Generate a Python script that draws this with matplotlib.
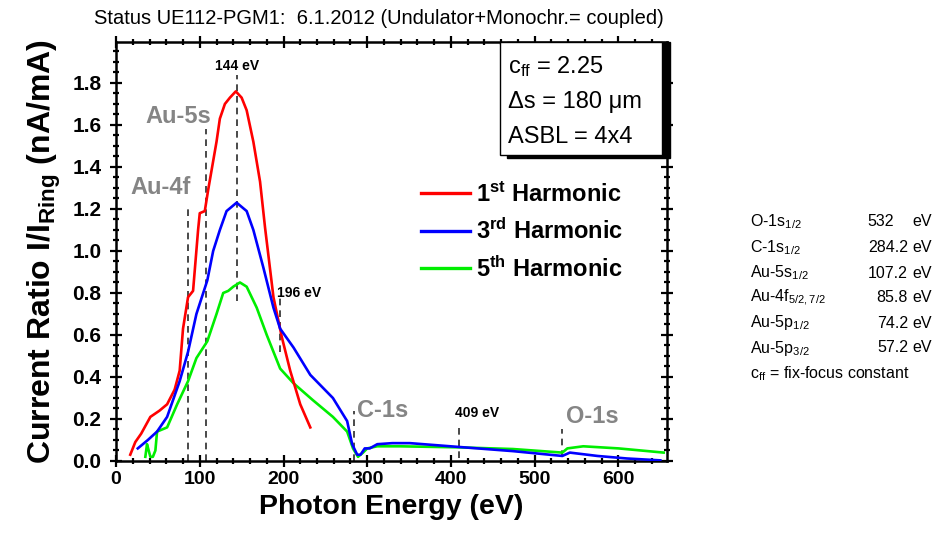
import numpy as np
import matplotlib
matplotlib.use('Agg')
import matplotlib.pyplot as plt
from matplotlib.patches import Rectangle
from matplotlib.ticker import MultipleLocator, FormatStrFormatter

plt.rcParams['font.family'] = ['Liberation Sans', 'DejaVu Sans']
plt.rcParams['mathtext.fontset'] = 'custom'
plt.rcParams['mathtext.rm'] = 'Liberation Sans'
plt.rcParams['mathtext.bf'] = 'Liberation Sans:bold'
plt.rcParams['mathtext.it'] = 'Liberation Sans:italic'

# ─── Data ─────────────────────────────────────────────────────────────
red_E = [17, 23, 30, 41, 52, 61, 70, 76, 80, 86, 92, 98, 100, 106, 110, 120, 124,
         130, 136, 143, 150, 156, 164, 172, 178, 188, 198, 208, 220, 232]
red_I = [0.03, 0.09, 0.13, 0.21, 0.24, 0.27, 0.34, 0.43, 0.63, 0.78, 0.81, 1.10, 1.18,
         1.19, 1.29, 1.52, 1.63, 1.70, 1.73, 1.76, 1.73, 1.67, 1.52, 1.33, 1.11, 0.78,
         0.59, 0.43, 0.27, 0.16]

blue_E = [26, 38, 49, 61, 76, 86, 96, 109, 116, 124, 132, 144, 156, 164, 176, 188, 196,
          212, 232, 259, 276, 282, 288, 292, 297, 303, 312, 330, 351, 409, 474, 533, 542,
          575, 610, 650]
blue_I = [0.06, 0.10, 0.14, 0.21, 0.38, 0.52, 0.70, 0.86, 1.00, 1.10, 1.19, 1.23, 1.19,
          1.10, 0.92, 0.73, 0.63, 0.54, 0.41, 0.30, 0.19, 0.08, 0.03, 0.03, 0.06, 0.06,
          0.08, 0.085, 0.085, 0.067, 0.047, 0.024, 0.04, 0.024, 0.012, 0.003]

green_E = [35, 37, 39, 41, 44, 47, 49, 61, 73, 86, 96, 109, 120, 128, 134, 140, 148, 156,
           168, 180, 196, 212, 235, 259, 276, 283, 289, 295, 300, 312, 339, 409, 474, 533,
           539, 558, 600, 654]
green_I = [0.02, 0.08, 0.05, 0.02, 0.02, 0.05, 0.14, 0.16, 0.27, 0.38, 0.49, 0.57, 0.70,
           0.80, 0.81, 0.83, 0.85, 0.83, 0.73, 0.60, 0.44, 0.37, 0.29, 0.21, 0.14, 0.06,
           0.02, 0.04, 0.06, 0.07, 0.07, 0.065, 0.057, 0.04, 0.06, 0.07, 0.06, 0.04]

series_labels = [r'1$^{\mathbf{st}}$ Harmonic', r'3$^{\mathbf{rd}}$ Harmonic',
                 r'5$^{\mathbf{th}}$ Harmonic']

# marker lines (edge energies) and their vertical extent
edge_E = [85.8, 107.2, 144, 196, 284.2, 409, 532]
edge_top = [1.20, 1.58, 1.84, 0.78, 0.24, 0.17, 0.15]
edge_bot = [0.0, 0.0, 0.76, 0.52, 0.0, 0.015, 0.02]

table_names = [r'O-1s$_{\mathregular{1/2}}$', r'C-1s$_{\mathregular{1/2}}$',
               r'Au-5s$_{\mathregular{1/2}}$', r'Au-4f$_{\mathregular{5/2,7/2}}$',
               r'Au-5p$_{\mathregular{1/2}}$', r'Au-5p$_{\mathregular{3/2}}$']
table_vals = ['532', '284.2', '107.2', '85.8', '74.2', '57.2']

# ─── Figure ───────────────────────────────────────────────────────────
fig = plt.figure(figsize=(9.38, 5.4), dpi=100)
ax = fig.add_axes([0.1237, 0.1463, 0.5874, 0.7759])

ax.plot(red_E, red_I, color='#ff0000', lw=1.9, label=series_labels[0], zorder=4)
ax.plot(blue_E, blue_I, color='#0000ff', lw=1.9, label=series_labels[1], zorder=4)
ax.plot(green_E, green_I, color='#00ee00', lw=1.9, label=series_labels[2], zorder=3)

for e, t, b in zip(edge_E, edge_top, edge_bot):
    ax.plot([e, e], [b, t], color='#2a2a2a', lw=1.2, ls=(0, (4, 3)), zorder=2)

ax.set_xlim(0, 658)
ax.set_ylim(0, 1.995)
ax.xaxis.set_major_locator(MultipleLocator(100))
ax.xaxis.set_minor_locator(MultipleLocator(20))
ax.yaxis.set_major_locator(MultipleLocator(0.2))
ax.yaxis.set_minor_locator(MultipleLocator(0.05))
ax.yaxis.set_major_formatter(FormatStrFormatter('%.1f'))
ax.set_yticks(np.arange(0, 1.81, 0.2))

ax.tick_params(which='both', direction='inout', top=True, right=True, width=1.6)
ax.tick_params(which='major', length=9)
ax.tick_params(which='minor', length=5)
ax.tick_params(axis='x', which='major', labelsize=14, pad=3)
ax.tick_params(axis='y', which='major', labelsize=15, pad=6)
for lab in ax.get_xticklabels() + ax.get_yticklabels():
    lab.set_fontweight('bold')
for sp in ax.spines.values():
    sp.set_linewidth(1.8)

ax.set_xlabel('Photon Energy (eV)', fontsize=20.5, fontweight='bold', labelpad=4)
ax.set_ylabel(r'Current Ratio I/I$_{\mathbf{Ring}}$ (nA/mA)', fontsize=23,
              fontweight='bold', labelpad=7)

# energy labels
ax.text(144, 1.88, '144 eV', fontsize=10, fontweight='bold', ha='center', va='center')
ax.text(192, 0.80, '196 eV', fontsize=10, fontweight='bold', ha='left', va='center')
ax.text(405, 0.23, '409 eV', fontsize=10, fontweight='bold', ha='left', va='center')
gray = '#858585'
ax.text(35, 1.64, 'Au-5s', fontsize=17, fontweight='bold', color=gray, va='center')
ax.text(17, 1.30, 'Au-4f', fontsize=17, fontweight='bold', color=gray, va='center')
ax.text(288, 0.24, 'C-1s', fontsize=17, fontweight='bold', color=gray, va='center')
ax.text(537, 0.21, 'O-1s', fontsize=17, fontweight='bold', color=gray, va='center')

# parameter box with drop shadow
shadow = Rectangle((0.710, 0.723), 0.295, 0.277, transform=ax.transAxes,
                   facecolor='black', edgecolor='black', zorder=5, clip_on=False)
box = Rectangle((0.697, 0.730), 0.294, 0.270, transform=ax.transAxes,
                facecolor='white', edgecolor='black', lw=1.0, zorder=6, clip_on=False)
ax.add_patch(shadow)
ax.add_patch(box)
ax.text(468, 1.88, r'c$_{\mathregular{ff}}$ = 2.25', fontsize=17, va='center', zorder=7)
ax.text(468, 1.71, 'Δs = 180 μm', fontsize=17, va='center', zorder=7)
ax.text(468, 1.545, 'ASBL = 4x4', fontsize=17, va='center', zorder=7)

leg = ax.legend(loc='upper left', bbox_to_anchor=(0.553, 0.665), frameon=False,
                prop={'weight': 'bold', 'size': 17}, handlelength=2.1,
                handletextpad=0.25, labelspacing=0.5, borderpad=0, borderaxespad=0)
for h in leg.get_lines():
    h.set_linewidth(2.4)

# title
fig.text(0.404, 0.966, 'Status UE112-PGM1:  6.1.2012 (Undulator+Monochr.= coupled)',
         fontsize=14.5, ha='center', va='center')

# side table
row_y = [222, 248, 273, 298, 323, 348]
for name, val, y in zip(table_names, table_vals, row_y):
    fy = 1 - y / 540
    fig.text(750 / 938, fy, name, fontsize=11.5, va='center')
    if val == '532':
        fig.text(867 / 938, fy, val, fontsize=11.5, va='center', ha='left')
    else:
        fig.text(908 / 938, fy, val, fontsize=11.5, va='center', ha='right')
    fig.text(912 / 938, fy, 'eV', fontsize=11.5, va='center', ha='left')
fig.text(750 / 938, 1 - 374 / 540, r'c$_{\mathregular{ff}}$ = fix-focus constant',
         fontsize=11.5, va='center')

fig.savefig('out.png', dpi=100)
